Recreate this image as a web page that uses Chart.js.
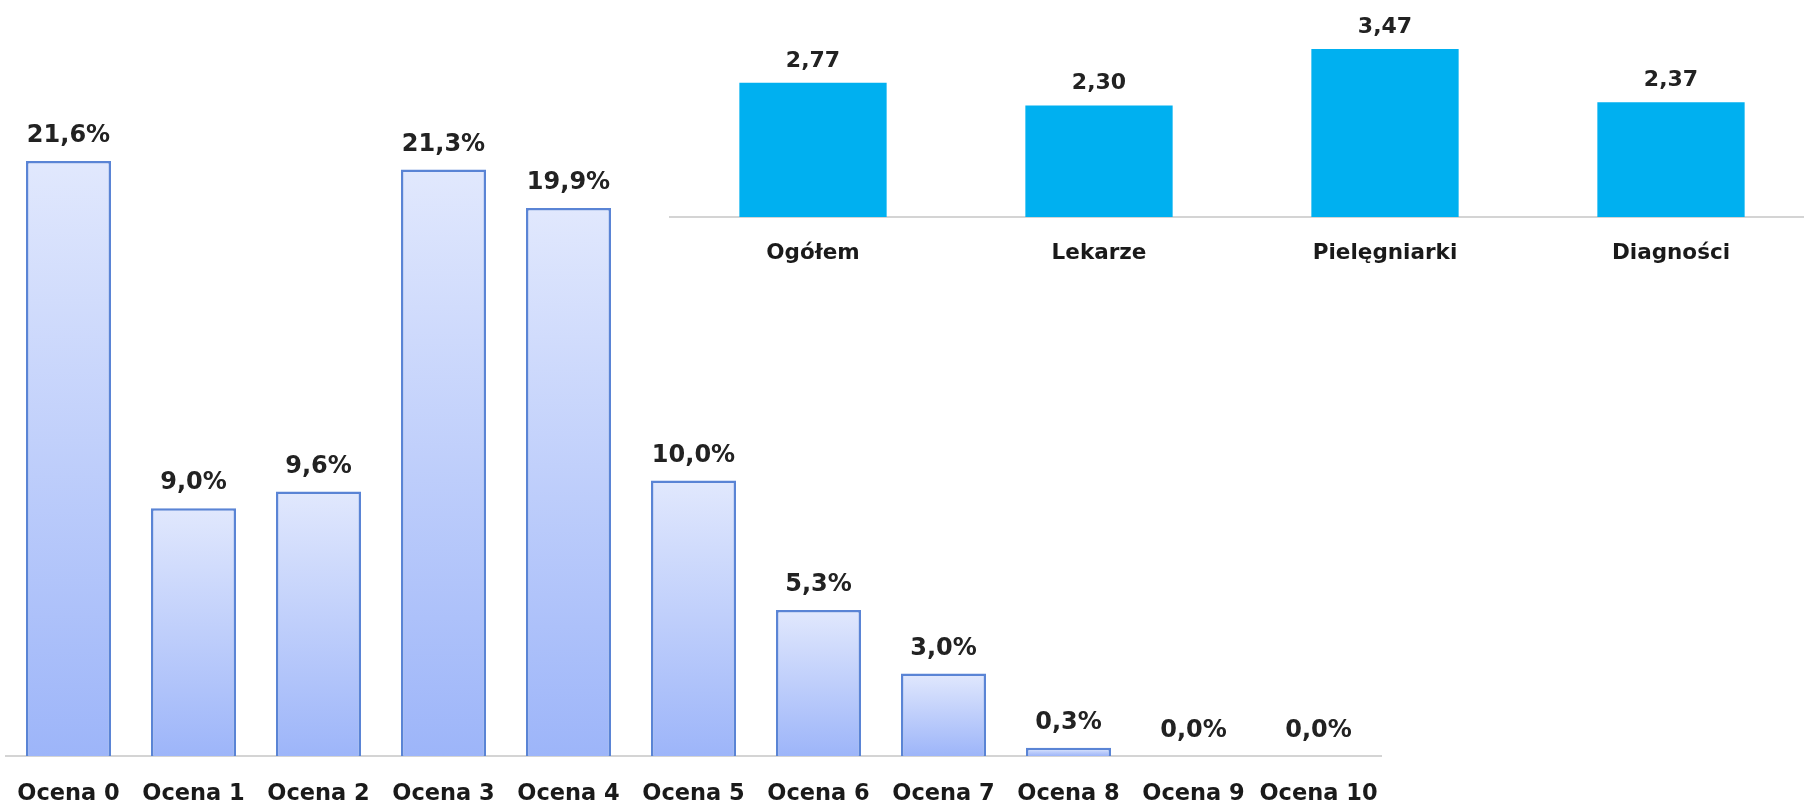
<!DOCTYPE html>
<html>
<head>
<meta charset="utf-8">
<script src="https://cdn.jsdelivr.net/npm/chart.js@4.4.0/dist/chart.umd.min.js"></script>
<style>
  html, body { margin: 0; padding: 0; background: #fff; overflow: hidden; width: 1804px; height: 805px; }
  #mainBox { position: absolute; left: 0; top: 0; width: 1390px; height: 805px; }
  #insetBox { position: absolute; left: 602px; top: 0; width: 1212px; height: 280px; }
</style>
</head>
<body>
<div id="mainBox"><canvas id="mainChart"></canvas></div>
<div id="insetBox"><canvas id="insetChart"></canvas></div>
<script>
// main chart - rozkład ocen
const oceny = ['Ocena 0', 'Ocena 1', 'Ocena 2', 'Ocena 3', 'Ocena 4', 'Ocena 5',
               'Ocena 6', 'Ocena 7', 'Ocena 8', 'Ocena 9', 'Ocena 10'];
const procenty = [21.6, 9.0, 9.6, 21.3, 19.9, 10.0, 5.3, 3.0, 0.3, 0.0, 0.0];

// inset chart - średnie
const grupy = ['Ogółem', 'Lekarze', 'Pielęgniarki', 'Diagności'];
const srednie = [2.77, 2.30, 3.47, 2.37];

function fmt(v, d) {
    return v.toFixed(d).replace('.', ',');
}

// draws value above every bar
const valueLabels = {
    id: 'valueLabels',
    afterDatasetsDraw(chart, args, opts) {
        const ctx = chart.ctx;
        const meta = chart.getDatasetMeta(0);
        ctx.save();
        ctx.font = opts.font;
        ctx.fillStyle = '#222';
        ctx.textAlign = 'center';
        ctx.textBaseline = 'middle';
        meta.data.forEach(function (bar, i) {
            const v = chart.data.datasets[0].data[i];
            ctx.fillText(opts.format(v), bar.x, bar.y - opts.offset);
        });
        ctx.restore();
    }
};

function barGradient(context) {
    const chart = context.chart;
    if (!chart.chartArea) return '#c0d0fb';
    const y = chart.scales.y;
    const top = y.getPixelForValue(context.raw);
    const bottom = y.getPixelForValue(0);
    const g = chart.ctx.createLinearGradient(0, top, 0, bottom + 0.01);
    g.addColorStop(0, '#e1e8fd');
    g.addColorStop(1, '#9db5f9');
    return g;
}

// no extra side padding for the tick labels
function fitAxis(h) {
    return function (axis) {
        axis.height = h;
        axis.paddingLeft = 0;
        axis.paddingRight = 0;
    };
}

new Chart(document.getElementById('mainChart'), {
    type: 'bar',
    data: {
        labels: oceny,
        datasets: [{
            data: procenty,
            backgroundColor: barGradient,
            borderColor: '#5a84d5',
            borderWidth: 2.5,
            categoryPercentage: 0.68,
            barPercentage: 1
        }]
    },
    options: {
        responsive: true,
        maintainAspectRatio: false,
        animation: false,
        layout: { padding: { left: 6, right: 9, top: 0, bottom: 0 } },
        plugins: {
            legend: { display: false },
            tooltip: { enabled: false },
            valueLabels: {
                font: 'bold 24px "DejaVu Sans", Verdana, sans-serif',
                offset: 25,
                format: v => fmt(v, 1) + '%'
            }
        },
        scales: {
            x: {
                grid: { display: false, drawTicks: false },
                border: { display: true, color: '#d4d4d4', width: 2 },
                ticks: {
                    color: '#1a1a1a',
                    font: { family: '"DejaVu Sans", Verdana, sans-serif', size: 22.5, weight: 'bold' },
                    padding: 25,
                    maxRotation: 0,
                    autoSkip: false
                },
                afterFit: fitAxis(49)
            },
            y: {
                display: false,
                min: 0,
                max: 27.45
            }
        }
    },
    plugins: [valueLabels]
});

new Chart(document.getElementById('insetChart'), {
    type: 'bar',
    data: {
        labels: grupy,
        datasets: [{
            data: srednie,
            backgroundColor: '#00b0f0',
            borderWidth: 0,
            categoryPercentage: 0.515,
            barPercentage: 1
        }]
    },
    options: {
        responsive: true,
        maintainAspectRatio: false,
        animation: false,
        layout: { padding: { left: 68, right: 0, top: 0, bottom: 0 } },
        plugins: {
            legend: { display: false },
            tooltip: { enabled: false },
            valueLabels: {
                font: 'bold 22px "DejaVu Sans", Verdana, sans-serif',
                offset: 22,
                format: v => fmt(v, 2)
            }
        },
        scales: {
            x: {
                grid: { display: false, drawTicks: false },
                border: { display: true, color: '#d4d4d4', width: 2 },
                ticks: {
                    color: '#1a1a1a',
                    font: { family: '"DejaVu Sans", Verdana, sans-serif', size: 21.5, weight: 'bold' },
                    padding: 24,
                    maxRotation: 0,
                    autoSkip: false
                },
                afterFit: fitAxis(63)
            },
            y: {
                display: false,
                min: 0,
                max: 4.48
            }
        }
    },
    plugins: [valueLabels]
});
</script>
</body>
</html>
